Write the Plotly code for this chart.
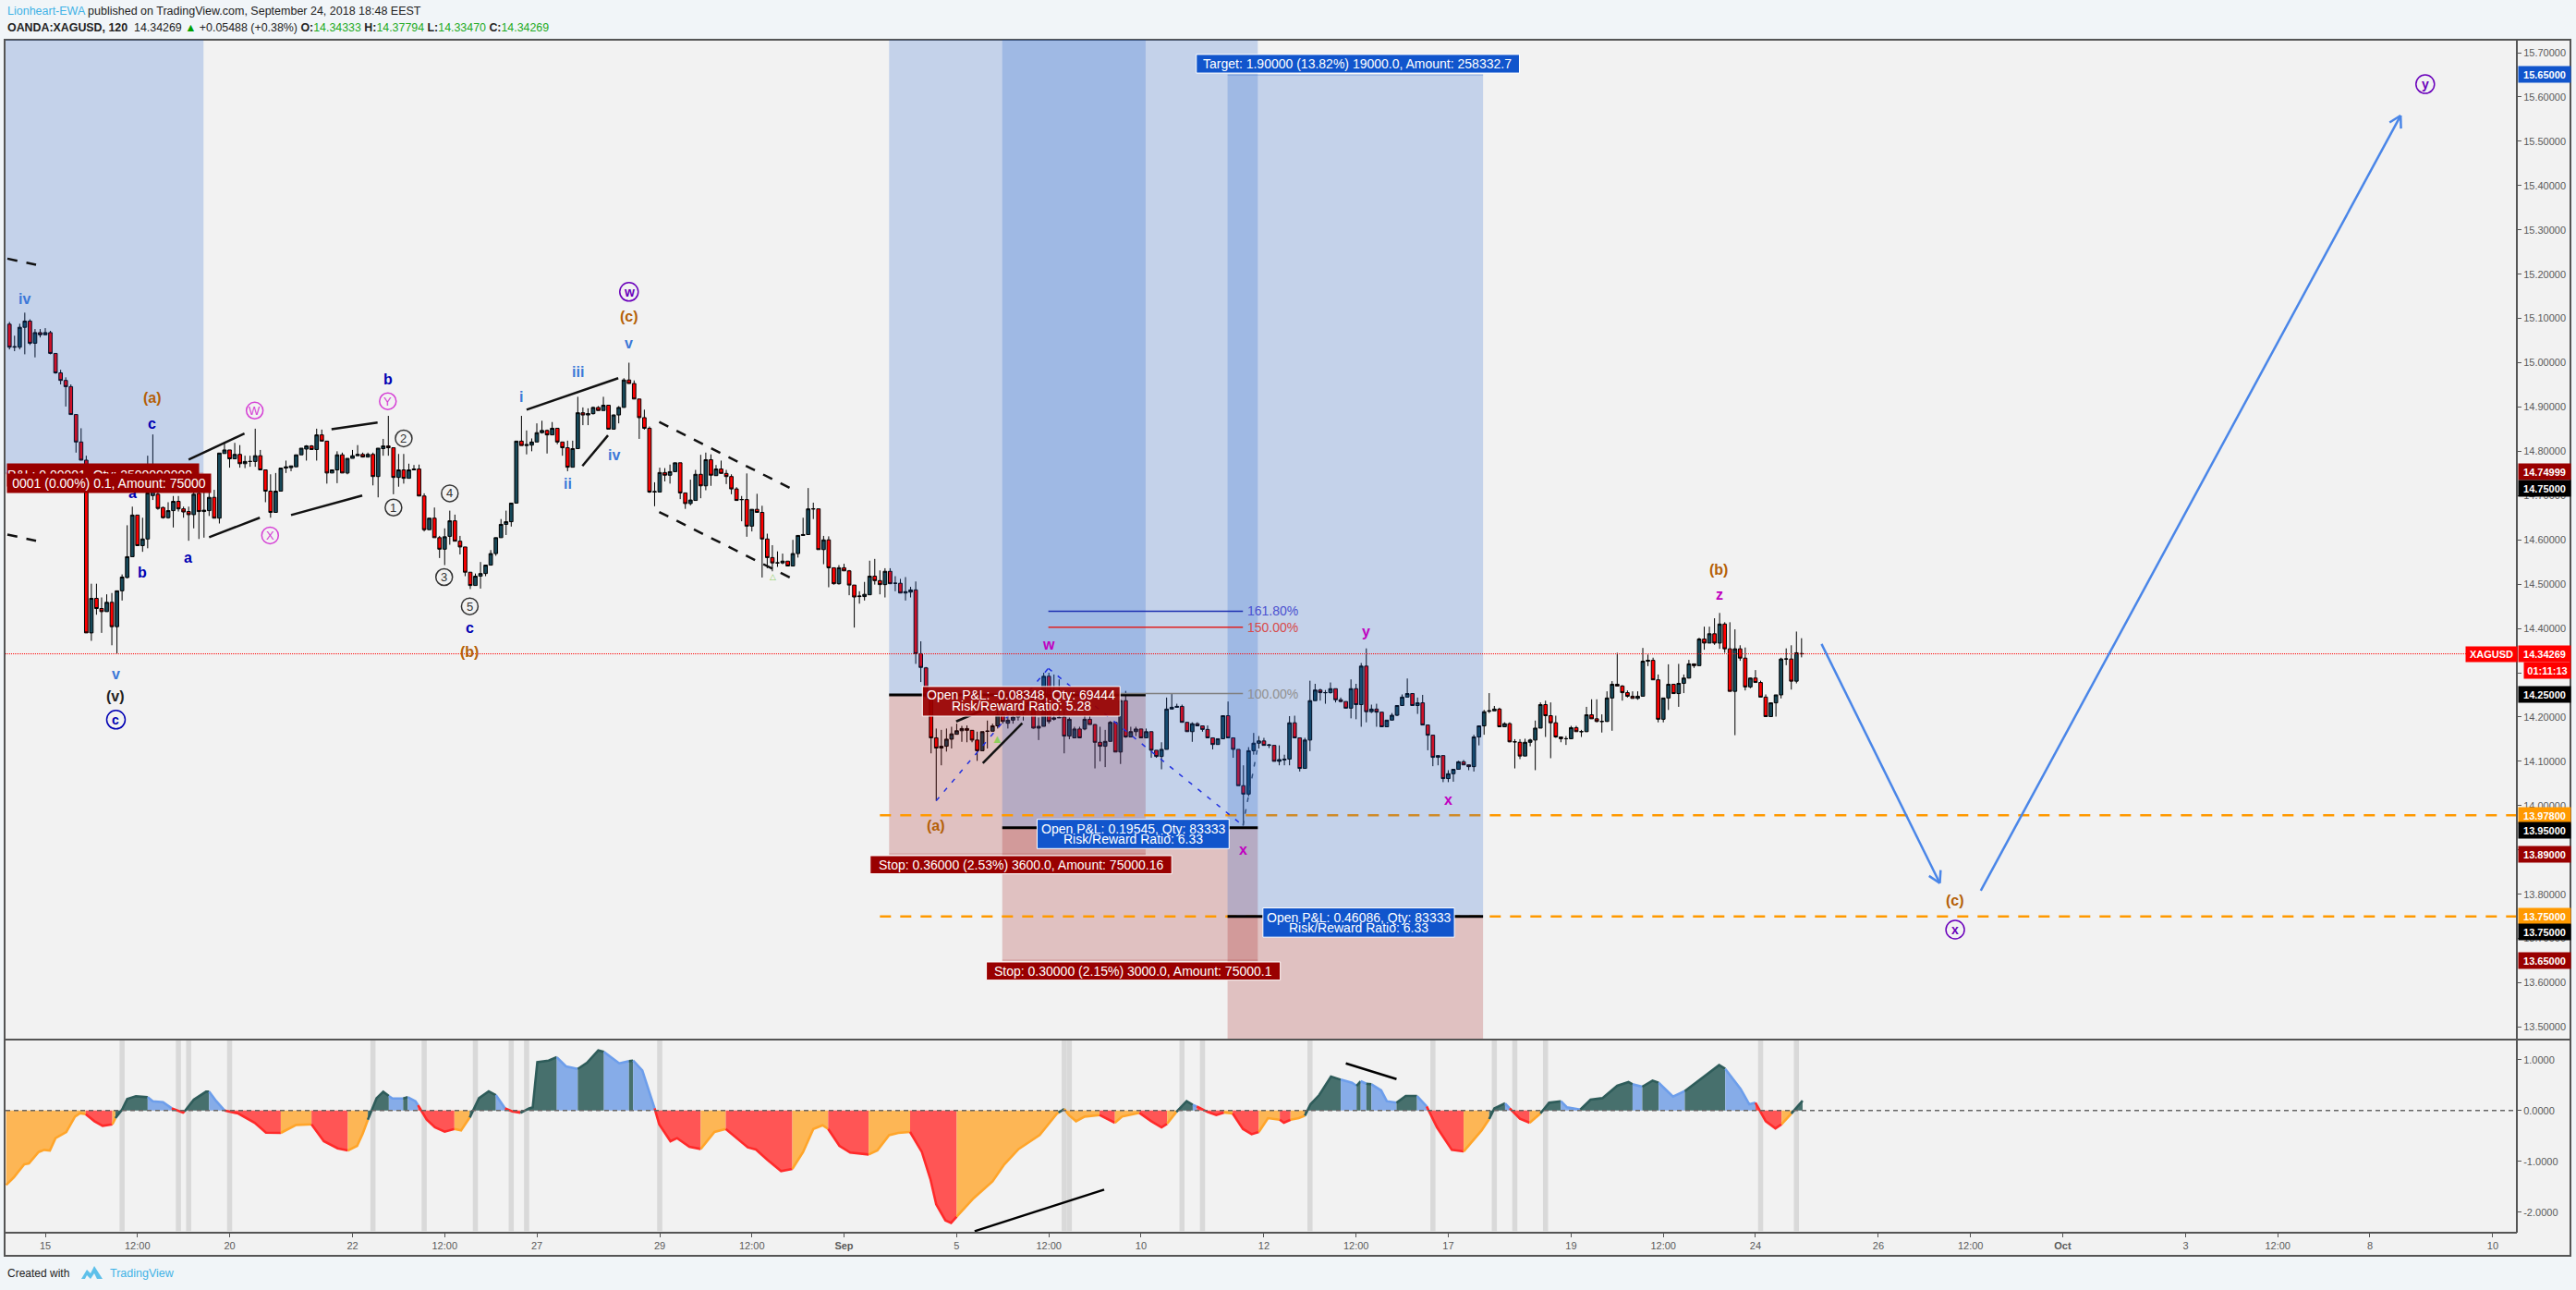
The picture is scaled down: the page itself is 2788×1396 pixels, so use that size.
import plotly.graph_objects as go

W, H = 2788, 1396

opens = [15.087,15.035,15.035,15.08,15.094,15.044,15.068,15.063,15.068,15.021,
14.977,14.96,14.946,14.883,14.821,14.78,14.39,14.468,14.445,14.438,
14.459,14.404,14.485,14.515,14.562,14.656,14.587,14.602,14.70,14.703,
14.673,14.65,14.666,14.687,14.67,14.664,14.657,14.705,14.664,14.666,
14.696,14.649,14.795,14.803,14.783,14.793,14.772,14.777,14.777,14.79,
14.758,14.71,14.662,14.71,14.762,14.763,14.765,14.792,14.805,14.812,
14.804,14.837,14.823,14.751,14.758,14.792,14.751,14.784,14.79,14.793,
14.787,14.793,14.743,14.806,14.812,14.808,14.741,14.758,14.739,14.758,
14.76,14.699,14.623,14.649,14.605,14.579,14.608,14.643,14.597,14.584,
14.527,14.497,14.518,14.524,14.543,14.569,14.605,14.635,14.641,14.683,
14.823,14.813,14.814,14.821,14.842,14.847,14.837,14.852,14.821,14.808,
14.764,14.806,14.887,14.882,14.885,14.899,14.892,14.904,14.85,14.882,
14.899,14.961,14.953,14.918,14.876,14.852,14.708,14.708,14.752,14.746,
14.754,14.774,14.706,14.682,14.689,14.748,14.722,14.781,14.745,14.76,
14.75,14.743,14.715,14.691,14.691,14.631,14.669,14.662,14.602,14.56,
14.548,14.548,14.552,14.541,14.569,14.61,14.612,14.67,14.67,14.578,
14.6,14.537,14.501,14.537,14.53,14.498,14.472,14.472,14.476,14.518,
14.508,14.499,14.529,14.502,14.502,14.48,14.482,14.487,14.343,14.311,
14.246,14.153,14.13,14.134,14.15,14.161,14.169,14.174,14.17,14.148,
14.124,14.168,14.168,14.18,14.205,14.186,14.193,14.2,14.21,14.225,
14.24,14.175,14.179,14.292,14.195,14.198,14.2,14.157,14.153,14.173,
14.173,14.195,14.183,14.143,14.134,14.145,14.188,14.121,14.237,14.155,
14.167,14.173,14.153,14.167,14.125,14.111,14.127,14.218,14.222,14.224,
14.188,14.167,14.185,14.18,14.172,14.153,14.138,14.151,14.203,14.153,
14.127,14.045,14.026,14.124,14.141,14.146,14.136,14.136,14.1,14.103,
14.105,14.187,14.153,14.084,14.148,14.237,14.261,14.255,14.255,14.264,
14.239,14.235,14.22,14.264,14.228,14.315,14.212,14.218,14.211,14.178,
14.193,14.204,14.226,14.245,14.253,14.226,14.232,14.182,14.159,14.109,
14.113,14.061,14.072,14.082,14.099,14.092,14.088,14.155,14.18,14.213,
14.214,14.218,14.178,14.185,14.144,14.143,14.112,14.143,14.148,14.175,
14.228,14.203,14.187,14.155,14.151,14.151,14.176,14.167,14.167,14.205,
14.196,14.19,14.19,14.243,14.274,14.27,14.255,14.247,14.242,14.247,
14.326,14.328,14.284,14.195,14.243,14.274,14.253,14.276,14.288,14.32,
14.316,14.376,14.367,14.388,14.367,14.41,14.354,14.258,14.354,14.333,
14.268,14.288,14.278,14.245,14.201,14.232,14.25,14.331,14.331,14.281,
14.34333]

closes = [15.035,15.036,15.08,15.094,15.044,15.068,15.063,15.068,15.021,14.977,
14.96,14.946,14.883,14.821,14.78,14.39,14.468,14.445,14.438,14.459,
14.404,14.485,14.516,14.562,14.656,14.587,14.602,14.706,14.72,14.671,
14.65,14.666,14.687,14.67,14.663,14.657,14.703,14.664,14.667,14.696,
14.649,14.796,14.803,14.783,14.793,14.772,14.777,14.777,14.79,14.758,
14.71,14.662,14.71,14.762,14.765,14.767,14.792,14.807,14.812,14.804,
14.837,14.823,14.751,14.758,14.792,14.751,14.784,14.79,14.793,14.787,
14.793,14.743,14.807,14.812,14.808,14.741,14.758,14.739,14.758,14.76,
14.699,14.623,14.649,14.605,14.579,14.607,14.643,14.597,14.584,14.527,
14.497,14.518,14.524,14.543,14.569,14.605,14.635,14.641,14.683,14.823,
14.813,14.815,14.821,14.842,14.847,14.837,14.852,14.821,14.808,14.764,
14.806,14.887,14.882,14.885,14.899,14.892,14.904,14.85,14.882,14.899,
14.961,14.953,14.918,14.876,14.852,14.708,14.709,14.752,14.746,14.754,
14.774,14.706,14.682,14.69,14.748,14.722,14.781,14.746,14.76,14.75,
14.743,14.715,14.689,14.691,14.631,14.669,14.662,14.602,14.56,14.548,
14.548,14.552,14.541,14.569,14.61,14.612,14.67,14.67,14.578,14.6,
14.537,14.501,14.537,14.53,14.498,14.471,14.473,14.477,14.518,14.508,
14.499,14.529,14.501,14.502,14.48,14.483,14.487,14.343,14.312,14.246,
14.153,14.13,14.134,14.15,14.162,14.169,14.174,14.17,14.148,14.124,
14.167,14.168,14.18,14.205,14.19,14.193,14.2,14.21,14.225,14.232,
14.175,14.179,14.292,14.19,14.198,14.199,14.157,14.195,14.173,14.153,
14.195,14.183,14.143,14.134,14.145,14.188,14.121,14.237,14.155,14.167,
14.173,14.153,14.167,14.125,14.111,14.127,14.218,14.222,14.224,14.188,
14.167,14.185,14.18,14.172,14.153,14.138,14.151,14.203,14.153,14.127,
14.045,14.026,14.124,14.141,14.146,14.136,14.137,14.1,14.104,14.105,
14.187,14.153,14.084,14.148,14.237,14.261,14.255,14.255,14.264,14.239,
14.235,14.22,14.264,14.228,14.315,14.212,14.218,14.211,14.178,14.193,
14.204,14.226,14.245,14.253,14.226,14.232,14.182,14.159,14.109,14.113,
14.061,14.072,14.082,14.099,14.092,14.088,14.155,14.18,14.212,14.214,
14.218,14.178,14.185,14.144,14.144,14.112,14.143,14.148,14.175,14.228,
14.203,14.187,14.155,14.151,14.151,14.176,14.167,14.167,14.205,14.196,
14.19,14.19,14.243,14.274,14.27,14.255,14.247,14.242,14.247,14.326,
14.328,14.284,14.195,14.243,14.274,14.253,14.276,14.288,14.32,14.316,
14.376,14.367,14.388,14.367,14.41,14.354,14.258,14.354,14.333,14.268,
14.288,14.278,14.245,14.201,14.232,14.25,14.331,14.331,14.281,14.345,
14.34269]

highs = [15.092,15.061,15.088,15.113,15.098,15.076,15.076,15.078,15.072,15.021,
14.984,14.967,14.951,14.883,14.852,14.79,14.501,14.501,14.47,14.477,
14.48,14.485,14.522,14.633,14.675,14.656,14.65,14.79,14.838,14.72,
14.675,14.685,14.699,14.699,14.675,14.675,14.72,14.72,14.713,14.717,
14.713,14.796,14.821,14.803,14.819,14.814,14.79,14.79,14.851,14.803,
14.758,14.748,14.751,14.762,14.779,14.767,14.792,14.807,14.814,14.814,
14.851,14.849,14.823,14.758,14.80,14.797,14.784,14.803,14.814,14.797,
14.797,14.797,14.807,14.828,14.88,14.808,14.794,14.794,14.772,14.769,
14.77,14.705,14.649,14.673,14.609,14.626,14.666,14.657,14.609,14.584,
14.527,14.524,14.55,14.543,14.577,14.605,14.647,14.666,14.683,14.823,
14.88,14.847,14.829,14.863,14.869,14.849,14.866,14.852,14.821,14.824,
14.824,14.923,14.899,14.897,14.901,14.902,14.923,14.904,14.883,14.902,
14.965,15.0,14.96,14.918,14.894,14.856,14.73,14.763,14.762,14.77,
14.774,14.774,14.706,14.736,14.758,14.792,14.797,14.793,14.769,14.779,
14.758,14.748,14.719,14.699,14.75,14.669,14.704,14.677,14.614,14.588,
14.574,14.569,14.552,14.6,14.61,14.65,14.717,14.684,14.67,14.609,
14.608,14.537,14.543,14.546,14.532,14.498,14.484,14.505,14.553,14.557,
14.531,14.536,14.536,14.518,14.512,14.516,14.494,14.506,14.371,14.313,
14.246,14.174,14.171,14.174,14.178,14.185,14.18,14.181,14.17,14.167,
14.167,14.192,14.185,14.22,14.215,14.212,14.219,14.223,14.247,14.254,
14.254,14.199,14.3,14.3,14.296,14.285,14.219,14.199,14.178,14.178,
14.206,14.202,14.184,14.178,14.171,14.191,14.188,14.24,14.259,14.178,
14.178,14.173,14.174,14.167,14.125,14.143,14.244,14.252,14.23,14.228,
14.188,14.188,14.188,14.181,14.181,14.153,14.151,14.203,14.235,14.153,
14.127,14.091,14.132,14.164,14.157,14.153,14.139,14.136,14.136,14.115,
14.202,14.203,14.153,14.153,14.282,14.275,14.264,14.261,14.278,14.264,
14.244,14.235,14.285,14.275,14.322,14.355,14.228,14.23,14.211,14.193,
14.209,14.226,14.251,14.287,14.253,14.244,14.25,14.182,14.159,14.113,
14.113,14.08,14.082,14.101,14.103,14.092,14.16,14.18,14.216,14.254,
14.225,14.221,14.188,14.188,14.15,14.15,14.151,14.151,14.192,14.233,
14.237,14.233,14.203,14.155,14.157,14.18,14.18,14.171,14.223,14.24,
14.24,14.206,14.258,14.281,14.345,14.272,14.26,14.258,14.258,14.356,
14.341,14.334,14.296,14.243,14.319,14.275,14.32,14.296,14.329,14.32,
14.379,14.404,14.404,14.423,14.435,14.414,14.414,14.398,14.362,14.357,
14.289,14.306,14.282,14.251,14.232,14.25,14.334,14.355,14.362,14.393,
14.37794]

lows = [15.03,15.026,15.03,15.019,15.04,15.012,15.057,15.063,15.019,14.975,
14.951,14.901,14.883,14.797,14.78,14.39,14.372,14.431,14.39,14.438,
14.362,14.343,14.463,14.513,14.562,14.587,14.573,14.581,14.69,14.668,
14.648,14.648,14.628,14.664,14.65,14.598,14.626,14.602,14.605,14.654,
14.649,14.637,14.796,14.763,14.783,14.763,14.762,14.765,14.765,14.758,
14.685,14.65,14.662,14.71,14.751,14.755,14.765,14.792,14.779,14.804,
14.779,14.823,14.727,14.751,14.728,14.751,14.748,14.784,14.79,14.786,
14.786,14.723,14.696,14.79,14.79,14.703,14.72,14.727,14.739,14.758,
14.699,14.619,14.623,14.605,14.559,14.543,14.589,14.597,14.567,14.518,
14.489,14.497,14.49,14.518,14.543,14.564,14.605,14.611,14.63,14.683,
14.813,14.793,14.80,14.821,14.84,14.795,14.837,14.816,14.79,14.755,
14.764,14.806,14.859,14.859,14.883,14.892,14.892,14.85,14.85,14.863,
14.899,14.953,14.918,14.828,14.849,14.706,14.676,14.708,14.732,14.727,
14.754,14.692,14.67,14.678,14.689,14.694,14.712,14.722,14.745,14.75,
14.726,14.703,14.688,14.642,14.607,14.619,14.662,14.515,14.536,14.529,
14.539,14.545,14.541,14.541,14.56,14.61,14.612,14.647,14.578,14.545,
14.493,14.499,14.499,14.53,14.475,14.402,14.456,14.463,14.476,14.499,
14.477,14.47,14.501,14.484,14.48,14.463,14.47,14.32,14.279,14.246,
14.118,14.011,14.091,14.122,14.129,14.161,14.144,14.143,14.143,14.101,
14.124,14.129,14.168,14.174,14.185,14.174,14.185,14.192,14.192,14.225,
14.174,14.148,14.179,14.185,14.192,14.198,14.118,14.15,14.153,14.153,
14.17,14.183,14.084,14.1,14.087,14.145,14.121,14.094,14.153,14.155,
14.157,14.153,14.153,14.108,14.108,14.082,14.127,14.218,14.222,14.188,
14.167,14.144,14.18,14.167,14.153,14.127,14.138,14.151,14.153,14.108,
14.045,13.955,14.021,14.115,14.129,14.136,14.13,14.1,14.091,14.091,
14.091,14.153,14.077,14.084,14.123,14.237,14.237,14.23,14.253,14.233,
14.233,14.22,14.197,14.195,14.178,14.188,14.209,14.178,14.178,14.178,
14.193,14.202,14.226,14.245,14.226,14.207,14.182,14.125,14.089,14.091,
14.053,14.053,14.054,14.082,14.092,14.08,14.077,14.136,14.16,14.209,
14.214,14.178,14.178,14.143,14.084,14.105,14.112,14.134,14.08,14.175,
14.155,14.107,14.153,14.143,14.137,14.151,14.167,14.155,14.166,14.196,
14.188,14.165,14.189,14.169,14.27,14.237,14.244,14.242,14.239,14.247,
14.315,14.284,14.188,14.188,14.216,14.253,14.223,14.254,14.287,14.311,
14.316,14.352,14.367,14.363,14.354,14.345,14.258,14.159,14.327,14.26,
14.265,14.278,14.245,14.201,14.201,14.201,14.242,14.317,14.262,14.276,
14.3347]

bars = list(range(len(opens)))

price_ticks = [15.7,15.6,15.5,15.4,15.3,15.2,15.1,15.0,14.9,14.8,14.7,14.6,14.5,14.4,14.3,14.2,14.1,14.0,13.9,13.8,13.7,13.6,13.5]
osc_ticks = [1.0,0.0,-1.0,-2.0]
time_tick_bars = [7,25,43,67,85,103,127,145,163,185,203,221,245,263,281,305,323,341,365,383,401,425,443,461,485]
time_tick_text = ["15","12:00","20","22","12:00","27","29","12:00","<b>Sep</b>","5","12:00","10","12","12:00","17","19","12:00","24","26","12:00","<b>Oct</b>","3","12:00","8","10"]

# oscillator readings
osc_bars = [-0.65,0.87,2.9,3.8,5.7,6.8,7.9,9.0,11.1,12.8,13.8,14.9,16.6,18.2,19.6,20.1,20.7,22,23,24.7,27,28,30,31.7,33.9,34.2,36,38.4,39,40.4,42,44.7,47.9,50.1,53,56,59,61.4,64.1,66.1,67.9,69,70,71.7,73,74.1,74.8,76.9,77.8,79.3,79.8,81.5,83.1,85,86.9,88.2,89.9,91.7,93.6,95,96.8,98.2,99.8,101.5,102.2,103.1,105.3,106.9,108.7,111,112.8,115,116.1,119.1,121,121.8,123.6,126,126.9,129.1,130.4,132.8,135,137.7,139.9,144.2,145.8,148,150.7,152.9,155,157,158.8,159.9,162.1,164.2,167.8,169.5,171.8,173.6,175.9,178.2,179.9,181,182.8,183.9,185,188.3,192,194.3,197.1,201.2,204.6,204.9,206,206.9,208.3,210,212.9,215.9,217.3,220.7,223,225,226.1,227.9,229.9,231.1,231.9,234,235.7,237.2,238.9,240.9,242.6,244,245.8,248.1,248.9,250.2,251.8,253,254.1,255.8,258.1,260,262.2,263.1,263.9,265,266,267.9,269,270.9,272.7,274.9,276.8,278.8,281.7,284,287.5,289,290,292.1,293,295,296.9,299,300.7,303,304.2,306.8,308.8,311.1,314,316.2,317,318.9,320.9,322.1,324.9,327.2,330,332.4,333.9,335.1,338.1,339.8,341,343,344.9,346.1,348,350.2]
osc_vals = [-1.467,-1.315,-1.06,-1.042,-0.818,-0.776,-0.788,-0.545,-0.424,-0.121,-0.055,-0.073,-0.212,-0.303,-0.285,-0.273,-0.152,0.018,0.224,0.279,0.261,0.182,0.164,0.042,-0.042,-0.018,0.212,0.37,0.37,0.182,0,-0.061,-0.242,-0.436,-0.442,-0.285,-0.273,-0.606,-0.745,-0.788,-0.697,-0.455,-0.182,0.242,0.37,0.285,0.236,0.236,0.261,0.182,0.103,-0.182,-0.333,-0.418,-0.364,-0.394,-0.139,0.242,0.376,0.303,0.042,-0.018,-0.048,0.042,0.061,0.952,0.982,1.048,0.867,0.818,0.939,1.182,1.152,0.927,0.97,0.982,0.788,0.042,-0.273,-0.606,-0.545,-0.715,-0.758,-0.424,-0.364,-0.727,-0.77,-0.97,-1.194,-1.152,-0.818,-0.364,-0.291,-0.364,-0.697,-0.83,-0.867,-0.788,-0.485,-0.442,-0.424,-0.818,-1.364,-1.848,-2.164,-2.212,-2.091,-1.727,-1.394,-1.061,-0.758,-0.485,-0.061,-0.042,0.03,-0.091,-0.212,-0.121,-0.091,-0.242,-0.121,-0.048,-0.212,-0.333,-0.261,-0.03,0.182,0.109,0.079,-0.03,-0.091,-0.042,-0.061,-0.364,-0.467,-0.424,-0.152,-0.182,-0.242,-0.182,-0.152,-0.103,0.121,0.303,0.667,0.606,0.545,0.485,0.576,0.527,0.515,0.394,0.182,0.152,0.285,0.285,0.079,-0.333,-0.776,-0.806,-0.394,-0.17,0.042,0.139,0.042,-0.164,-0.242,-0.061,0.152,0.182,0.061,0.018,0.212,0.242,0.485,0.558,0.515,0.467,0.588,0.545,0.273,0.382,0.588,0.77,0.891,0.818,0.424,0.121,0.152,-0.212,-0.352,-0.273,-0.061,0.194]
# bar where the oscillator colour changes, and the colour from there on
state_change_bars = [-1,14.9,20.1,20.7,27,31.7,34.2,39,42,53,59,66.1,70,74.1,76.9,77.8,79.8,86.9,89.9,95,96.8,99.8,106.9,111,116.1,121,121.8,126,135,139.9,152.9,159.9,167.8,175.9,185,204.9,206,212.9,215.9,220.7,226.1,227.9,231.1,231.9,237.2,238.9,244,248.1,250.2,253,260,263.1,263.9,265,266,270.9,274.9,276.8,284,289,292.1,293,296.9,299,303,306.8,317,318.9,322.1,327.2,335.1,341,346.1,348]
state_change_kinds = list("ORODBRDBROROD" "BDBRODBRDBDBDBROROROR" "ORORODBRORORODBDBDBDBRODBROD" "BDBDBDBROD"[:0]) if False else None
state_change_kinds = ["O","R","O","D","B","R","D","B","R","O","R","O","D","B","D","B","R","O","D","B","R","D","B","D","B","D","B","R","O","R","O","R","O","R","O","D","O","R","O","R","O","D","B","R","O","R","O","R","O","D","B","D","B","D","B","D","B","R","O","D","B","R","O","D","B","D","B","D","B","D","B","R","O","D"]

grey_bars = [22,33,35,43,71,81,91,98,101,127,206,207,229,233,254,278,290,294,300,342,349]

# chart drawings, each anchored by bar number and price
positions = [
    dict(b0=-10,   b1=37.9,  entry=14.75, stop=14.74999, target=16.65),
    dict(b0=171.8, b1=221.9, entry=14.25, stop=13.89, target=16.15),
    dict(b0=193.9, b1=243.8, entry=13.95, stop=13.65, target=15.85),
    dict(b0=237.9, b1=287.8, entry=13.75, stop=13.45, target=15.65),
]
solid_lines = [(35,14.781,45.9,14.84),(39,14.606,48.9,14.65),(55,14.656,68.9,14.7),(62.9,14.85,71.9,14.865),
               (101,14.894,118.9,14.965),(111.9,14.767,116.9,14.836),(184.9,14.19,195.8,14.244),(190.1,14.096,197.8,14.186)]
dashed_lines = [(126.9,14.866,153.3,14.712),(126.9,14.663,153.3,14.51),(-0.4,15.235,5.2,15.221),(-0.4,14.612,5.2,14.598)]
plain_labels = [
    ("iv",3,15.144,"#3c78d8"),("(c)",121,15.105,"#b45f06"),("v",121,15.044,"#3c78d8"),
    ("(a)",27.9,14.92,"#b45f06"),("c",27.9,14.863,"#0000b3"),("a",24,14.705,"#0000b3"),("b",25.9,14.527,"#0000b3"),
    ("a",34.9,14.559,"#0000b3"),("b",73.9,14.963,"#0000b3"),("c",89.9,14.402,"#0000b3"),("(b)",89.9,14.346,"#b45f06"),
    ("v",20.8,14.296,"#3c78d8"),("(v)",20.8,14.247,"#222222"),("i",99.9,14.922,"#3c78d8"),("iii",111,14.979,"#3c78d8"),
    ("ii",109,14.727,"#3c78d8"),("iv",118,14.791,"#3c78d8"),("w",203,14.364,"#c000c0"),("(a)",181,13.955,"#b45f06"),
    ("x",241,13.901,"#c000c0"),("y",265,14.392,"#c000c0"),("x",281.1,14.013,"#c000c0"),("z",334,14.477,"#c000c0"),
    ("(b)",333.8,14.532,"#b45f06"),("(c)",380,13.785,"#b45f06"),
]
circle_labels = [
    ("w",121,15.16,"#6a00bb",20,True),("c",20.8,14.194,"#0000b3",20,True),("W",47.9,14.892,"#d53fd5",18,False),
    ("X",50.9,14.61,"#d53fd5",18,False),("Y",73.9,14.913,"#d53fd5",18,False),("2",77,14.829,"#333333",18,False),
    ("1",75,14.673,"#333333",18,False),("4",86,14.705,"#333333",18,False),("3",84.9,14.516,"#333333",18,False),
    ("5",89.9,14.45,"#333333",18,False),("x",380,13.72,"#6a00bb",20,True),("y",471.8,15.629,"#6a00bb",20,True),
]

FONT = "Liberation Sans"
PX_PER_BAR, PX_PER_PRICE, PX_PER_OSC = 5.542, 479.3, 55.0
x_range = [-0.76, 489.7]
y_range = [15.7 + 14 / PX_PER_PRICE, 15.7 - 1068 / PX_PER_PRICE]
osc_range = [76.7 / PX_PER_OSC, -132.3 / PX_PER_OSC]
px = lambda v: v / W
py = lambda v: 1 - v / H

fig = go.Figure()
fig.add_trace(go.Candlestick(
    x=bars, open=opens, high=highs, low=lows, close=closes, xaxis="x", yaxis="y", hoverinfo="skip",
    increasing=dict(line=dict(color="#000000", width=1), fillcolor="#17495a"),
    decreasing=dict(line=dict(color="#000000", width=1), fillcolor="#ff0000"),
    whiskerwidth=0, showlegend=False))

line_col = dict(D="#2e5c5a", B="#6d9eeb", R="#ff2a2a", O="#ffa52a")
fill_col = dict(D="#47706d", B="#86ace8", R="#ff5555", O="#fdb655")
shapes, annos = [], []

for g in grey_bars:
    shapes.append(dict(type="rect", xref="x", yref="y2", x0=g-0.5, x1=g+0.5, y0=osc_range[1]+0.03, y1=osc_range[0],
                       fillcolor="#d9d9d9", line_width=0, layer="below"))

def state_at(b):
    cur = state_change_kinds[0]
    for cb, k in zip(state_change_bars, state_change_kinds):
        if cb <= b:
            cur = k
    return cur

osc_state = [state_at(b) for b in osc_bars]
n = len(osc_bars)
i = 0
while i < n - 1:
    j = i
    while j < n - 1 and osc_state[j] == osc_state[i]:
        j += 1
    st = osc_state[i]
    fig.add_trace(go.Scatter(x=osc_bars[i:j+1], y=osc_vals[i:j+1], xaxis="x", yaxis="y2", mode="lines", fill="tozeroy",
                             fillcolor=fill_col[st], line=dict(color=line_col[st], width=2.6), hoverinfo="skip", showlegend=False))
    i = j

shapes.append(dict(type="line", xref="x", yref="y2", x0=x_range[0], x1=x_range[1], y0=0, y1=0,
                   line=dict(color="#666666", width=1.5, dash="5px,4px"), layer="above"))

def dline(x0, y0, x1, y1, color, width, dash="solid", yref="y"):
    shapes.append(dict(type="line", xref="x", yref=yref, x0=x0, y0=y0, x1=x1, y1=y1,
                       line=dict(color=color, width=width, dash=dash), layer="above"))

def position_band(p):
    shapes.append(dict(type="rect", xref="x", yref="y", x0=p["b0"], x1=p["b1"], y0=p["entry"], y1=p["target"],
                       fillcolor="rgba(17,85,204,0.2)", line=dict(width=0), layer="above"))
    shapes.append(dict(type="rect", xref="x", yref="y", x0=p["b0"], x1=p["b1"], y0=p["stop"], y1=p["entry"],
                       fillcolor="rgba(153,0,0,0.2)", line=dict(width=0), layer="above"))
    shapes.append(dict(type="line", xref="x", yref="y", x0=p["b0"], x1=p["b1"], y0=p["stop"], y1=p["stop"],
                       line=dict(color="rgba(153,0,0,0.2)", width=2), layer="above"))
    shapes.append(dict(type="line", xref="x", yref="y", x0=p["b0"], x1=p["b1"], y0=p["target"], y1=p["target"],
                       line=dict(color="rgba(17,85,204,0.2)", width=2), layer="above"))

for p in positions[:3]:
    position_band(p)
dline(170, 13.978, x_range[1], 13.978, "#ff9900", 2.5, "12px,10px")
dline(170, 13.75, x_range[1], 13.75, "#ff9900", 2.5, "12px,10px")
position_band(positions[3])
for p in positions[1:]:
    dline(p["b0"], p["entry"], p["b1"], p["entry"], "#000000", 3)

for l in solid_lines:
    dline(*l, "#111111", 2.5)
for l in dashed_lines:
    dline(*l, "#111111", 2.5, "11px,10px")
dline(188.5, -2.376, 213.8, -1.558, "#000000", 2.5, yref="y2")
dline(261, 0.927, 270.9, 0.618, "#000000", 2.5, yref="y2")

# fibonacci levels and zigzag
dline(202.9, 14.439, 240.9, 14.439, "#1c2fb0", 1.5)
dline(202.9, 14.403, 240.9, 14.403, "#e02020", 1.5)
dline(202.9, 14.253, 240.9, 14.253, "#808080", 1.5)
dline(181, 14.011, 202.9, 14.31, "#2030e0", 1.5, "5px,8px")
dline(202.9, 14.31, 240.9, 13.955, "#2030e0", 1.5, "5px,8px")
dline(240.9, 13.955, 244, 14.145, "#2f4f80", 1.5, "5px,8px")

# last price line
dline(x_range[0], 14.34269, 480.2, 14.34269, "#ff0000", 1, "1px,1px")

# forecast arrows
def arrow(b0, p0, b1, p1):
    col = "#4a86e8"
    dline(b0, p0, b1, p1, col, 2.5)
    dx, dy = (b1 - b0) * PX_PER_BAR, (p1 - p0) * PX_PER_PRICE
    length = (dx * dx + dy * dy) ** 0.5
    ux, uy = dx / length, dy / length
    for sgn in (1, -1):
        hx = -ux * 0.87 - sgn * uy * 0.5
        hy = -uy * 0.87 + sgn * ux * 0.5
        dline(b1, p1, b1 + 14 * hx / PX_PER_BAR, p1 + 14 * hy / PX_PER_PRICE, col, 2.5)

arrow(353.9, 14.365, 377, 13.825)
arrow(385, 13.808, 467, 15.558)

def text(t, x, y, color, size=14, bold=False, xref="x", yref="y", anchor="center", **kw):
    annos.append(dict(text=f"<b>{t}</b>" if bold else t, x=x, y=y, xref=xref, yref=yref, showarrow=False,
                      xanchor=anchor, yanchor="middle", font=dict(family=FONT, size=size, color=color), **kw))

for t, b, p, c in plain_labels:
    text(t, b, p, c, size=16, bold=True)

for t, b, p, c, d, bold in circle_labels:
    shapes.append(dict(type="circle", xref="x", yref="y", xsizemode="pixel", ysizemode="pixel",
                       xanchor=b, yanchor=p, x0=-d/2, x1=d/2, y0=-d/2, y1=d/2,
                       line=dict(color=c, width=1.5), layer="above"))
    text(t, b, p, c, size=14 if bold else 13, bold=bold)

text("161.80%", 246.7, 14.439, "#4a50d0", size=14)
text("150.00%", 246.7, 14.403, "#d84a4a", size=14)
text("100.00%", 246.7, 14.253, "#909090", size=14)
text("▲", 193, 14.15, "#8fcf5f", size=13)
text("△", 149.1, 14.518, "#8fcf5f", size=9)

# position tool captions
def box(b0, b1, p0, p1, color):
    shapes.append(dict(type="rect", xref="x", yref="y", x0=b0, x1=b1, y0=p0, y1=p1, fillcolor=color,
                       line=dict(color="#ffffff", width=1), layer="above"))

box(168.1, 227, 13.846, 13.887, "#990000")
text("Stop: 0.36000 (2.53%) 3600.0, Amount: 75000.16", 197.5, 13.867, "#ffffff")
box(190.8, 248.2, 13.606, 13.647, "#990000")
text("Stop: 0.30000 (2.15%) 3000.0, Amount: 75000.1", 219.5, 13.627, "#ffffff")
box(231.8, 294.9, 15.654, 15.696, "#1155cc")
text("Target: 1.90000 (13.82%) 19000.0, Amount: 258332.7", 263.3, 15.675, "#ffffff")
box(178.3, 216.9, 14.202, 14.269, "rgba(153,0,0,0.92)")
text("Open P&amp;L: -0.08348, Qty: 69444", 197.6, 14.249, "#ffffff")
text("Risk/Reward Ratio: 5.28", 197.6, 14.224, "#ffffff")
box(200.7, 238.2, 13.903, 13.969, "#1155cc")
text("Open P&amp;L: 0.19545, Qty: 83333", 219.4, 13.948, "#ffffff")
text("Risk/Reward Ratio: 6.33", 219.4, 13.924, "#ffffff")
box(244.8, 282.2, 13.703, 13.769, "#1155cc")
text("Open P&amp;L: 0.46086, Qty: 83333", 263.5, 13.748, "#ffffff")
text("Risk/Reward Ratio: 6.33", 263.5, 13.724, "#ffffff")

# clipped caption of the position at the far left
annos.append(dict(text="P&amp;L: 0.00001, Qty: 2500000000", xref="paper", yref="paper", x=px(7), y=py(514), xanchor="left", yanchor="middle",
                  showarrow=False, width=207, height=24, align="left", bgcolor="#990000", borderpad=0,
                  font=dict(family=FONT, size=14, color="#ffffff")))
annos.append(dict(text="0001 (0.00%) 0.1, Amount: 75000", xref="paper", yref="paper", x=px(7), y=py(523), xanchor="left", yanchor="middle",
                  showarrow=False, width=220, height=20, align="center", bgcolor="#990000", borderpad=0,
                  font=dict(family=FONT, size=14, color="#ffffff")))

# axis price tags
def tag(t, price, color, yshift=0):
    annos.append(dict(text=f"<b>{t}</b>", xref="paper", yref="y", x=px(2725), y=price, xanchor="left", yanchor="middle", yshift=yshift,
                      showarrow=False, width=56, height=17, bgcolor=color, borderpad=0, align="center",
                      font=dict(family=FONT, size=11, color="#ffffff")))

tag("15.65000", 15.65, "#1155cc")
tag("14.74999", 14.74999, "#990000", 2)
tag("14.75000", 14.75, "#000000", -16)
tag("14.34269", 14.34269, "#ff0000")
tag("14.25000", 14.25, "#000000")
tag("13.97800", 13.978, "#ff9900")
tag("13.95000", 13.95, "#000000", -3)
tag("13.89000", 13.89, "#990000")
tag("13.75000", 13.75, "#ff9900")
tag("13.75000", 13.75, "#000000", -17)
tag("13.65000", 13.65, "#990000")
annos.append(dict(text="<b>01:11:13</b>", xref="paper", yref="paper", x=px(2731), y=py(725.5), xanchor="left", yanchor="middle",
                  showarrow=False, width=50, height=17, bgcolor="#ff0000", borderpad=0,
                  font=dict(family=FONT, size=11, color="#ffffff")))
annos.append(dict(text="<b>XAGUSD</b>", xref="paper", yref="y", x=px(2668), y=14.34269, xanchor="left", yanchor="middle",
                  showarrow=False, width=55, height=16, bgcolor="#ff0000", borderpad=0,
                  font=dict(family=FONT, size=11, color="#ffffff")))

# frame
bg_shapes = [
    dict(type="rect", xref="paper", yref="paper", x0=px(5), x1=px(2782), y0=py(1359), y1=py(43), fillcolor="#f2f2f2",
         line=dict(color="#555555", width=2), layer="below"),
]
frame_lines = [(5,1125,2782,1125),(5,1334,2724,1334),(2724,43,2724,1334)]
for a, b, c, d in frame_lines:
    shapes.append(dict(type="line", xref="paper", yref="paper", x0=px(a), x1=px(c), y0=py(b), y1=py(d),
                       line=dict(color="#555555", width=2), layer="above"))

# header and footer
green = "#22aa22"
annos.append(dict(text='<span style="color:#3fb2e6">Lionheart-EWA</span> published on TradingView.com, September 24, 2018 18:48 EEST',
                  xref="paper", yref="paper", x=px(6), y=py(12), xanchor="left", yanchor="middle", showarrow=False,
                  font=dict(family=FONT, size=12.5, color="#222222")))
annos.append(dict(text=f'<b>OANDA:XAGUSD, 120</b>  14.34269 <span style="color:#00a000">▲</span> +0.05488 (+0.38%) '
                       f'<b>O:</b><span style="color:{green}">14.34333</span> <b>H:</b><span style="color:{green}">14.37794</span> '
                       f'<b>L:</b><span style="color:{green}">14.33470</span> <b>C:</b><span style="color:{green}">14.34269</span>',
                  xref="paper", yref="paper", x=px(6), y=py(30), xanchor="left", yanchor="middle", showarrow=False,
                  font=dict(family=FONT, size=12.4, color="#222222")))
annos.append(dict(text="Created with", xref="paper", yref="paper", x=px(6), y=py(1378), xanchor="left", yanchor="middle", showarrow=False,
                  font=dict(family=FONT, size=12, color="#222222")))
annos.append(dict(text="TradingView", xref="paper", yref="paper", x=px(117), y=py(1378), xanchor="left", yanchor="middle", showarrow=False,
                  font=dict(family=FONT, size=12.5, color="#3fb2e6")))
logo = [(88,1384),(94,1374),(98,1378),(102,1370),(111,1384),(105,1384),(102,1378),(98,1384),(94,1380),(92,1384)]
shapes.append(dict(type="path", xref="paper", yref="paper", fillcolor="#5ec0ea", line_width=0, layer="above",
                   path="M" + " L".join(f"{px(a):.5f},{py(b):.5f}" for a, b in logo) + " Z"))

axis_font = dict(family=FONT, size=11, color="#5a5a5a")
fig.update_layout(
    width=W, height=H, autosize=False, margin=dict(l=0, r=0, t=0, b=0),
    paper_bgcolor="#f1f5f8", plot_bgcolor="rgba(0,0,0,0)", showlegend=False, boxgap=0.25, boxgroupgap=0.1,
    shapes=bg_shapes + shapes, annotations=annos, hovermode=False,
    xaxis=dict(domain=[px(6), px(2724)], range=x_range, anchor="y2", tickmode="array", tickvals=time_tick_bars,
               ticktext=time_tick_text, ticks="outside", ticklen=4, tickcolor="#555555", tickfont=axis_font,
               showgrid=False, zeroline=False, showline=False, rangeslider=dict(visible=False)),
    yaxis=dict(domain=[py(1125), py(43)], range=[y_range[1], y_range[0]], anchor="x", side="right", tickmode="array",
               tickvals=price_ticks, ticktext=[f"{v:.5f}" for v in price_ticks], ticks="outside", ticklen=4, tickcolor="#555555",
               tickfont=axis_font, showgrid=False, zeroline=False, showline=False),
    yaxis2=dict(domain=[py(1334), py(1125)], range=[osc_range[1], osc_range[0]], anchor="x", side="right", tickmode="array",
                tickvals=osc_ticks, ticktext=[f"{v:.4f}" for v in osc_ticks], ticks="outside", ticklen=4, tickcolor="#555555",
                tickfont=axis_font, showgrid=False, zeroline=False, showline=False),
)

fig.write_html("out.html", config=dict(displayModeBar=False),
               post_script="document.body.style.margin='0';document.body.style.overflow='hidden';")
